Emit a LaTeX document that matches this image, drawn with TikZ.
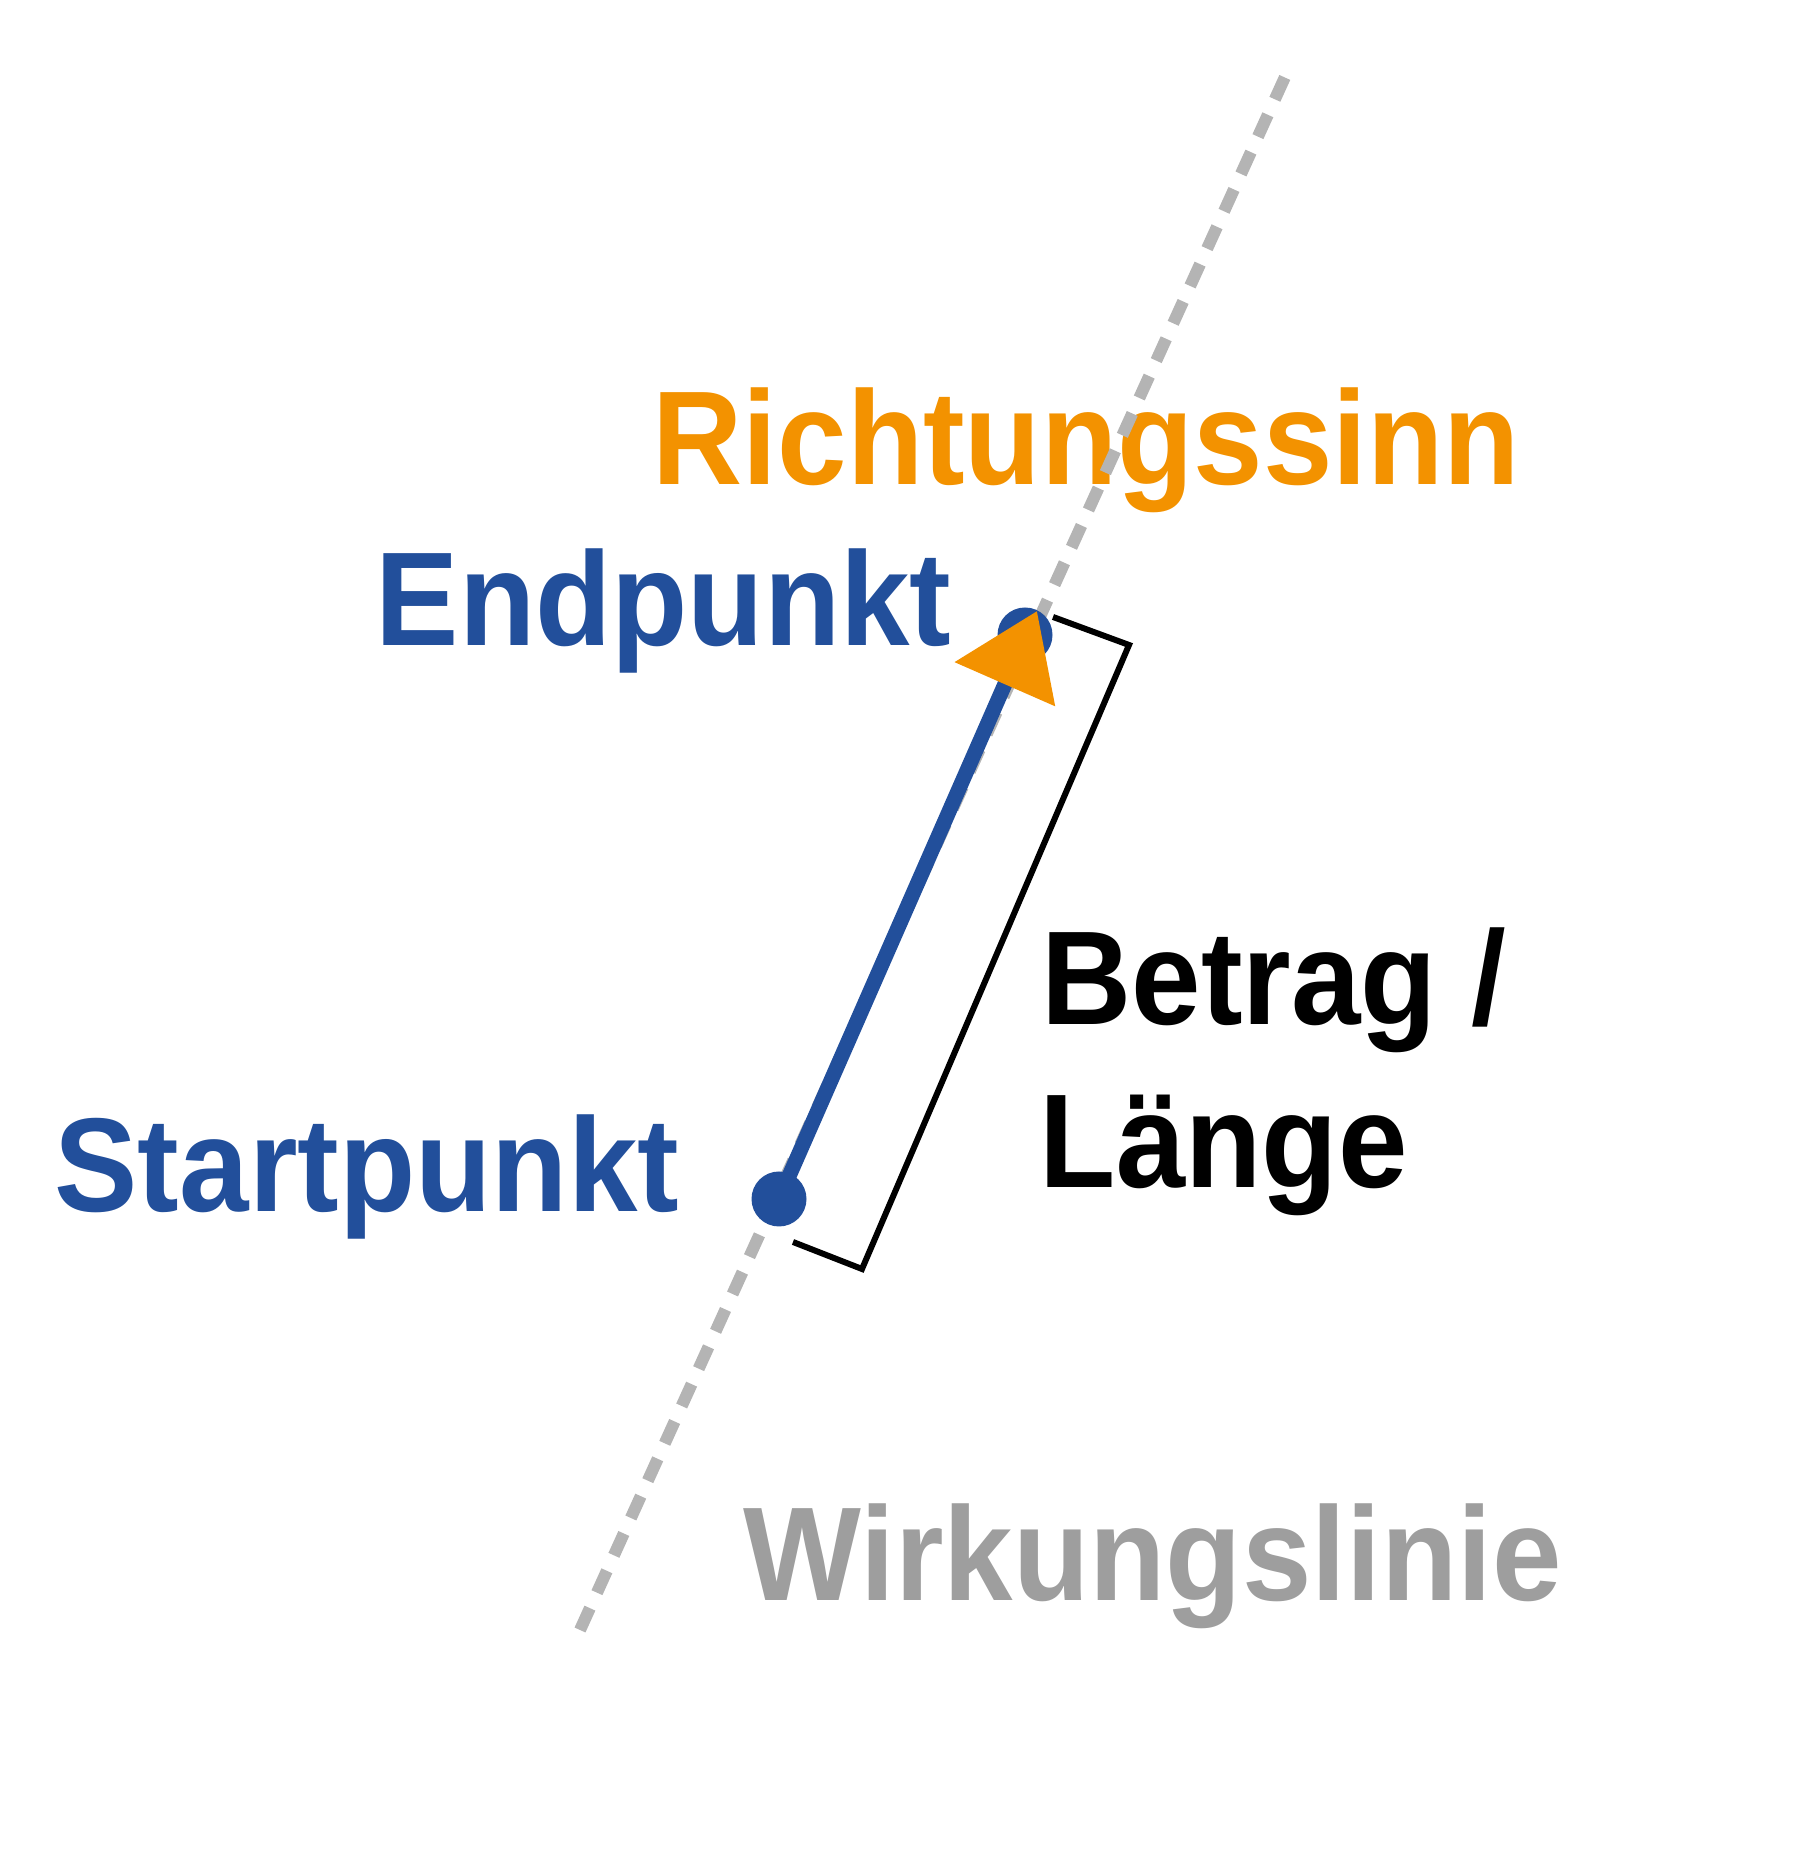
\documentclass[tikz,border=0pt]{standalone}
\usepackage{fontspec}
\setmainfont[FakeStretch=0.935]{Liberation Sans}
\usetikzlibrary{arrows.meta}

\definecolor{vecblue}{RGB}{34,79,155}
\definecolor{sinnorange}{RGB}{243,146,0}
\definecolor{liniegrau}{RGB}{180,180,180}
\definecolor{textgrau}{RGB}{158,158,158}

\begin{document}
\begin{tikzpicture}[
    label/.style={anchor=base west, inner sep=0pt, font=\fontsize{38}{45}\selectfont\bfseries},
    dot/.style={circle, fill=vecblue, inner sep=0pt, minimum size=0.55cm},
    wirkung/.style={liniegrau, line width=0.12cm, dash pattern=on 0.24cm off 0.17cm}
]
    \useasboundingbox (0,0) rectangle (18.18,18.51);

    % labels
    \node[label, sinnorange] (sinn) at (6.52,13.66) {Richtungssinn};
    \node[label, vecblue] (endtxt) at (3.75,12.05) {Endpunkt};
    \node[label, vecblue] (starttxt) at (0.54,6.39) {Startpunkt};
    \node[label] (betrag) at (10.41,8.26) {Betrag /};
    \node[label] (laenge) at (10.39,6.63) {Länge};
    \node[label, textgrau] (wltxt) at (7.43,2.50) {Wirkungslinie};

    % line of action
    \coordinate (wl-a) at (5.80,2.21);
    \coordinate (wl-b) at (12.85,17.74);
    \draw[wirkung] (wl-a) -- (wl-b);

    % the vector itself
    \node[dot] (start) at (7.79,6.52) {};
    \node[dot] (end) at (10.25,12.16) {};
    \coordinate (spitze) at (10.37,12.40);
    \draw[vecblue, line width=0.15cm,
          -{Triangle[length=0.8cm, width=1.06cm, color=sinnorange]}]
        (start.center) -- (spitze);

    % bracket for the magnitude
    \coordinate (k1) at (10.53,12.34);
    \coordinate (k2) at (11.29,12.06);
    \coordinate (k3) at (8.62,5.82);
    \coordinate (k4) at (7.93,6.09);
    \draw[line width=0.06cm] (k1) -- (k2) -- (k3) -- (k4);

\end{tikzpicture}
\end{document}
